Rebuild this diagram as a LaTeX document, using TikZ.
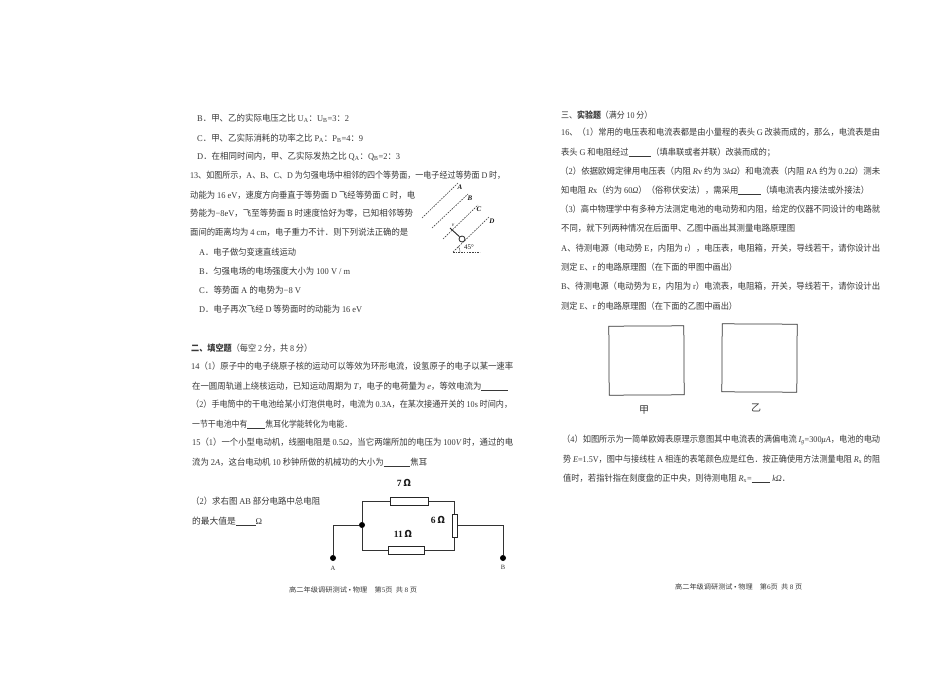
\documentclass[tikz,border=0pt]{standalone}
\usepackage{graphicx}
\usepackage{fontspec}
\setmainfont{Noto Sans CJK SC}
\newfontfamily\latf{Liberation Serif}
\newcommand{\la}[1]{{\latf #1}}
\newcommand{\li}[1]{{\latf\itshape #1}}
\newcommand{\lb}[1]{{\latf\bfseries #1}}
\newcommand{\fitw}[2]{\resizebox{#1pt}{\height}{#2}}
\newcommand{\blank}[1]{\rule[-1pt]{#1pt}{0.4pt}}
\tikzset{
  tx/.style={anchor=west,inner sep=0pt,text=black!78,font=\fontsize{8.8}{10}\selectfont},
  foot/.style={anchor=west,inner sep=0pt,text=black!78,font=\fontsize{6.8}{8}\selectfont},
  head/.style={tx},
  wire/.style={draw=black!80,line width=0.75pt},
  res/.style={draw=black!85,line width=1pt,fill=white,inner sep=0pt},
  dotn/.style={circle,fill=black,inner sep=0pt,minimum size=6pt},
  val/.style={inner sep=0pt,text=black!90,font=\fontsize{9.5}{11}\selectfont},
  lab/.style={inner sep=0pt,text=black!80,font=\fontsize{6.5}{8}\selectfont},
  eqp/.style={draw=black!75,line width=0.6pt,dash pattern=on 1.6pt off 1.1pt},
  elab/.style={inner sep=0pt,text=black!90,font=\fontsize{7}{8}\selectfont\latf\bfseries\itshape},
  box/.style={draw=black!80,line width=0.75pt,inner sep=0pt}
}
\begin{document}
\begin{tikzpicture}[x=1pt,y=-1pt]
\useasboundingbox[fill=white] (0,0) rectangle (950,672);
% left page
\node[tx] (l01) at (197,118) {\fitw{152}{\la{B}．甲、乙的实际电压之比 \la{U\textsubscript{A}}：\la{U\textsubscript{B}=3}：\la{2}}};
\node[tx] (l02) at (197,138) {\fitw{166}{\la{C}．甲、乙实际消耗的功率之比 \la{P\textsubscript{A}}：\la{P\textsubscript{B}=4}：\la{9}}};
\node[tx] (l03) at (197,156) {\fitw{203}{\la{D}．在相同时间内，甲、乙实际发热之比 \la{Q\textsubscript{A}}：\la{Q\textsubscript{B}=2}：\la{3}}};
\node[tx] (l04) at (190,175) {\fitw{315}{\la{13}、如图所示，\la{A}、\la{B}、\la{C}、\la{D} 为匀强电场中相邻的四个等势面，一电子经过等势面 \la{D} 时，}};
\node[tx] (l05) at (190,195) {\fitw{225}{动能为 \la{16 eV}，速度方向垂直于等势面 \la{D} 飞经等势面 \la{C} 时，电}};
\node[tx] (l06) at (190,213) {\fitw{223}{势能为\la{−8eV}，飞至等势面 \la{B} 时速度恰好为零，已知相邻等势}};
\node[tx] (l07) at (190,232) {\fitw{218}{面间的距离均为 \la{4 cm}，电子重力不计．则下列说法正确的是}};
\node[tx] (l08) at (199,252) {\fitw{97}{\la{A}．电子做匀变速直线运动}};
\node[tx] (l09) at (199,271) {\fitw{151}{\la{B}．匀强电场的电场强度大小为 \la{100 V / m}}};
\node[tx] (l10) at (199,290) {\fitw{102}{\la{C}．等势面 \la{A} 的电势为\la{−8 V}}};
\node[tx] (l11) at (199,309) {\fitw{163}{\la{D}．电子再次飞经 \la{D} 等势面时的动能为 \la{16 eV}}};
\node[head] (l12) at (191,348) {\fitw{121}{\textbf{二、填空题}（每空 \la{2} 分，共 \la{8} 分）}};
\node[tx] (l13) at (191,366) {\fitw{322}{\la{14}（\la{1}）原子中的电子绕原子核的运动可以等效为环形电流，设氢原子的电子以某一速率}};
\node[tx] (l14) at (192,386) {\fitw{316}{在一圆周轨道上绕核运动，已知运动周期为 \li{T}，电子的电荷量为 \li{e}，等效电流为\blank{28}}};
\node[tx] (l15) at (191,404) {\fitw{321}{（\la{2}）手电筒中的干电池给某小灯泡供电时，电流为 \la{0.3A}，在某次接通开关的 \la{10s} 时间内，}};
\node[tx] (l16) at (192,424) {\fitw{160}{一节干电池中有\blank{20}焦耳化学能转化为电能．}};
\node[tx] (l17) at (192,442) {\fitw{321}{\la{15}（\la{1}）一个小型电动机，线圈电阻是 \la{0.5}\li{Ω}，当它两端所加的电压为 \la{100}\li{V} 时，通过的电}};
\node[tx] (l18) at (192,462) {\fitw{235}{流为 \la{2}\li{A}，这台电动机 \la{10} 秒钟所做的机械功的大小为\blank{28}焦耳}};
\node[tx] (l19) at (191,501) {\fitw{129}{（\la{2}）求右图 \la{AB} 部分电路中总电阻}};
\node[tx] (l20) at (192,521) {\fitw{70}{的最大值是\blank{20}\la{Ω}}};
\node[foot] (f1) at (289,590) {\fitw{128}{高二年级调研测试 \la{•} 物理\quad 第\la{5}页\ \ 共 \la{8} 页}};
% right page
\node[head] (r01) at (561,115) {\fitw{91}{三、\textbf{实验题}（满分 \la{10} 分）}};
\node[tx] (r02) at (561,132) {\fitw{319}{\la{16}、（\la{1}）常用的电压表和电流表都是由小量程的表头 \la{G} 改装而成的，那么，电流表是由}};
\node[tx] (r03) at (561,152) {\fitw{214}{表头 \la{G} 和电阻经过\blank{24}（填串联或者并联）改装而成的；}};
\node[tx] (r04) at (560,171) {\fitw{320}{（\la{2}）依据欧姆定律用电压表（内阻 \li{R}\la{v} 约为 \la{3}\li{kΩ}）和电流表（内阻 \li{R}\la{A} 约为 \la{0.2}\li{Ω}）测未}};
\node[tx] (r05) at (561,190) {\fitw{308}{知电阻 \li{R}\la{x}（约为 \la{60}\li{Ω}）（俗称伏安法），需采用\blank{24}（填电流表内接法或外接法）}};
\node[tx] (r06) at (560,209) {\fitw{320}{（\la{3}）高中物理学中有多种方法测定电池的电动势和内阻，给定的仪器不同设计的电路就}};
\node[tx] (r07) at (561,228) {\fitw{234}{不同，就下列两种情况在后面甲、乙图中画出其测量电路原理图}};
\node[tx] (r08) at (561,248) {\fitw{319}{\la{A}、待测电源（电动势 \la{E}，内阻为 \la{r}），电压表，电阻箱，开关，导线若干，请你设计出}};
\node[tx] (r09) at (561,267) {\fitw{176}{测定 \la{E}、\la{r} 的电路原理图（在下面的甲图中画出）}};
\node[tx] (r10) at (561,286) {\fitw{319}{\la{B}、待测电源（电动势为 \la{E}，内阻为 \la{r}）电流表，电阻箱，开关，导线若干，请你设计出}};
\node[tx] (r11) at (561,306) {\fitw{176}{测定 \la{E}、\la{r} 的电路原理图（在下面的乙图中画出）}};
\node[box,minimum width=75pt,minimum height=69pt,rotate=0.3] (bj) at (646.5,360.5) {};
\node[box,minimum width=75pt,minimum height=68pt,rotate=-0.3] (by) at (759.5,358) {};
\node[tx,anchor=center,font=\fontsize{10}{12}\selectfont] (tj) at (644,410) {甲};
\node[tx,anchor=center,font=\fontsize{10}{12}\selectfont] (ty) at (756,408) {乙};
\node[tx] (r12) at (562,440) {\fitw{318}{（\la{4}）如图所示为一简单欧姆表原理示意图其中电流表的满偏电流 \li{I}\textsubscript{\li{g}}\la{=300}\li{μA}，电池的电动}};
\node[tx] (r13) at (563,459) {\fitw{317}{势 \li{E}\la{=1.5V}，图中与接线柱 \la{A} 相连的表笔颜色应是红色．按正确使用方法测量电阻 \li{R}\textsubscript{\la{x}} 的阻}};
\node[tx] (r14) at (563,478) {\fitw{227}{值时，若指针指在刻度盘的正中央，则待测电阻 \li{R}\textsubscript{\la{x}}\la{=}\blank{20} \li{kΩ}．}};
\node[foot] (f2) at (675,587) {\fitw{127}{高二年级调研测试 \la{•} 物理\quad 第\la{6}页\ \ 共 \la{8} 页}};
% potential planes
\coordinate (a1) at (422,218); \coordinate (a2) at (458,183);
\coordinate (b1) at (432,228); \coordinate (b2) at (468,194);
\coordinate (c1) at (443,239); \coordinate (c2) at (478,205);
\coordinate (d1) at (453,252); \coordinate (d2) at (489,217);
\coordinate (hz) at (480,252);
\draw[eqp] (a1) -- (a2);
\draw[eqp] (b1) -- (b2);
\draw[eqp] (c1) -- (c2);
\draw[eqp] (d1) -- (d2);
\draw[eqp] (d1) -- (hz);
\node[elab] (ta) at (460,187) {A};
\node[elab] (tb) at (470,198) {B};
\node[elab] (tc) at (479,209) {C};
\node[elab] (td) at (492,221) {D};
\node[elab,font=\fontsize{5.5}{6}\selectfont\latf\itshape] (tv) at (453,225) {v};
\node[elab,font=\fontsize{7}{8}\selectfont\latf] (t45) at (469,247) {45°};
\node[draw=black!85,line width=0.8pt,circle,inner sep=0pt,minimum size=6pt] (el) at (462,239) {};
\coordinate (vt) at (450,228);
\draw[black!85,line width=0.9pt] (el) -- (vt);
\coordinate (as) at (460,252); \coordinate (ae) at (458,246);
\draw[black!70,line width=0.4pt] (as) to[bend right=20] (ae);
% circuit
\node[res,minimum width=38pt,minimum height=8pt] (r7) at (409,501.5) {};
\node[res,minimum width=36pt,minimum height=8pt] (r11) at (406,550) {};
\node[res,minimum width=5pt,minimum height=23pt] (r6) at (454.5,525.5) {};
\node[dotn] (j) at (362,525) {};
\node[dotn] (pa) at (333,558) {};
\node[dotn] (pb) at (503,558) {};
\draw[wire] (j) |- (r7);
\draw[wire] (r7) -| (r6);
\draw[wire] (j) |- (r11);
\draw[wire] (r11) -| (r6);
\draw[wire] (j) -| (pa);
\draw[wire] (r6) -| (pb);
\node[val] (v7) at (404,483) {\lb{7}\,\textbf{Ω}};
\node[val] (v11) at (403,534) {\lb{11}\,\textbf{Ω}};
\node[val] (v6) at (438,520) {\lb{6}\,\textbf{Ω}};
\node[lab] (la) at (333,568) {\la{A}};
\node[lab] (lb) at (503,567) {\la{B}};
\end{tikzpicture}
\end{document}
